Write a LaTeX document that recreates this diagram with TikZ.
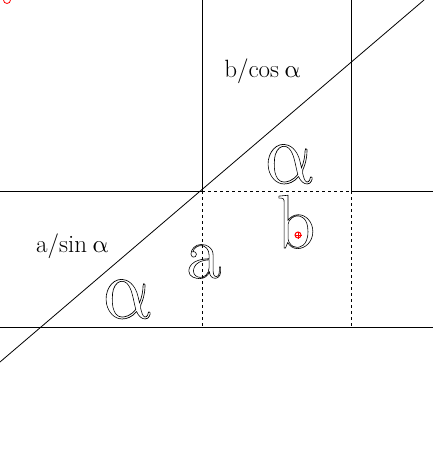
\documentclass[tikz,border=0pt]{standalone}
\usepackage{fontspec}
\DeclareFontFamily{OML}{cmm}{\skewchar\font'177}
\DeclareFontShape{OML}{cmm}{m}{it}{<-> cmmi10}{}
\tikzset{
  solidln/.style={line width=0.8pt, black},
  dashln/.style={line width=0.8pt, black, dash pattern=on 3pt off 3pt},
  smalllbl/.style={anchor=base, inner sep=0pt, font=\fontsize{25}{28}\selectfont},
  biglbl/.style={anchor=base, inner sep=0pt, font=\fontsize{76}{80}\selectfont},
  upright/.style={xslant=-0.22, yscale=1.15, transform shape},
}
\newcommand{\outl}[1]{\special{pdf:literal direct 1 Tr 0.6 w}#1\special{pdf:literal direct 0 Tr}}
\newcommand{\upal}{\tikz[baseline=0pt]\node[inner sep=0pt, anchor=base, xslant=-0.22, transform shape]{$\alpha$};}
\begin{document}
\begin{tikzpicture}[x=1pt,y=-1pt]
\useasboundingbox (0,0) rectangle (433,449);
% solid lines
\draw[solidln] (202,0) -- (202,191);
\draw[solidln] (351,0) -- (351,191);
\draw[solidln] (0,191) -- (202,191);
\draw[solidln] (351,191) -- (433,191);
\draw[solidln] (0,327) -- (433,327);
\draw[solidln] (0,362) -- (424,0);
% dashed lines
\draw[dashln] (202,191) -- (351,191);
\draw[dashln] (202,191) -- (202,327);
\draw[dashln] (351,191) -- (351,327);
% red marks
\draw[red, line width=0.8pt] (7,0) circle (3.5);
\draw[red, line width=1pt] (298,235) circle (3);
\draw[red, line width=0.8pt] (294.5,235) -- (301.5,235) (298,231.5) -- (298,238.5);
% labels
\node[smalllbl] (bcos) at (263,78) {b/cos\,\upal};
\node[smalllbl] (asin) at (73,252) {a/sin\,\upal};
\node[biglbl, upright] (alphatop) at (293,183) {\outl{$\alpha$}};
\node[biglbl] (bbig) at (296,248) {\outl{b}};
\node[biglbl] (abig) at (204,278) {\outl{a}};
\node[biglbl, upright] (alphalow) at (131,318) {\outl{$\alpha$}};
\end{tikzpicture}
\end{document}
